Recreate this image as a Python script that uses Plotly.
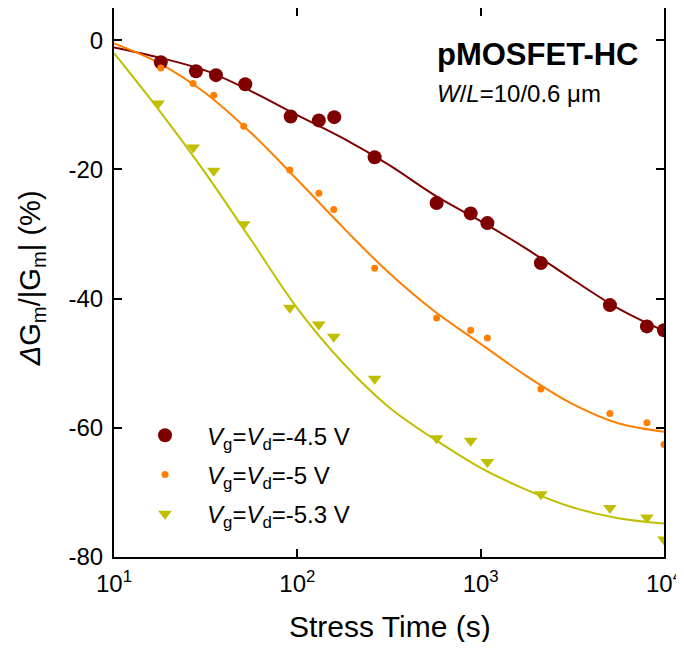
import plotly.graph_objects as go

# measured data (stress time in s, dGm/|Gm| in %)
t_meas = [18, 28, 36, 52, 92, 131, 159, 264, 575, 882, 1088, 2130, 5070, 8070, 10000]
vg45 = [-3.4, -4.8, -5.4, -6.8, -11.8, -12.4, -11.9, -18.1, -25.2, -26.8, -28.3, -34.5, -41.0, -44.3, -44.9]
t_meas5 = [18, 27, 35, 51, 91, 131, 158, 264, 575, 882, 1088, 2130, 5070, 8070, 10000]
vg5 = [-4.3, -6.7, -8.5, -13.3, -20.1, -23.7, -26.2, -35.3, -43.0, -44.9, -46.1, -54.0, -57.8, -59.2, -62.6]
t_meas53 = [17.4, 27, 35, 51, 91, 131, 158, 264, 575, 882, 1088, 2130, 5070, 8070, 10000]
vg53 = [-9.8, -16.6, -20.2, -28.5, -41.4, -44.0, -45.9, -52.4, -61.6, -62.0, -65.3, -70.3, -72.4, -73.9, -77.3]

# fitted curves
t_fit = [10, 17.8, 31.6, 56.2, 100, 178, 316, 562, 1000, 1780, 3160, 5620, 10000]
fit45 = [-1.1, -2.7, -4.7, -7.9, -11.6, -15.2, -19.3, -24.0, -28.0, -32.3, -37.0, -41.5, -45.0]
fit5 = [-0.5, -3.6, -8.2, -14.4, -21.6, -29.0, -36.0, -42.0, -47.0, -52.0, -56.3, -59.3, -60.6]
fit53 = [-2.0, -11.0, -20.6, -31.0, -41.5, -50.0, -56.8, -61.8, -66.2, -69.6, -72.3, -74.0, -74.8]

x_tickvals = [10, 100, 1000, 10000]
x_ticktext = ["10<sup>1</sup>", "10<sup>2</sup>", "10<sup>3</sup>", "10<sup>4</sup>"]
y_tickvals = [0, -20, -40, -60, -80]
y_ticktext = ["0", "-20", "-40", "-60", "-80"]

names = ["<i>V</i><sub>g</sub>=<i>V</i><sub>d</sub>=-4.5 V",
         "<i>V</i><sub>g</sub>=<i>V</i><sub>d</sub>=-5 V",
         "<i>V</i><sub>g</sub>=<i>V</i><sub>d</sub>=-5.3 V"]
colors = ["#800000", "#FF7F00", "#BFBF00"]

FONT = "Arial, Liberation Sans, sans-serif"
fig = go.Figure()

for tx, fy, c in [(t_fit, fit45, colors[0]), (t_fit, fit5, colors[1]), (t_fit, fit53, colors[2])]:
    fig.add_trace(go.Scatter(x=tx, y=fy, mode="lines", line=dict(color=c, width=2, shape="spline"),
                             showlegend=False, hoverinfo="skip"))

fig.add_trace(go.Scatter(x=t_meas, y=vg45, mode="markers", name=names[0], legendgroup="a",
                         marker=dict(symbol="circle", size=14, color=colors[0])))
fig.add_trace(go.Scatter(x=t_meas5, y=vg5, mode="markers", name=names[1], legendgroup="b",
                         marker=dict(symbol="circle", size=7, color=colors[1])))
fig.add_trace(go.Scatter(x=t_meas53, y=vg53, mode="markers", name=names[2], legendgroup="c",
                         marker=dict(symbol="triangle-down", size=12, color=colors[2])))

axis_common = dict(showline=True, linecolor="black", linewidth=2, mirror="ticks",
                   ticks="inside", ticklen=8, tickwidth=2, tickcolor="black",
                   showgrid=False, zeroline=False, automargin=False,
                   tickfont=dict(family=FONT, size=24, color="black"))

fig.update_xaxes(type="log", range=[1, 4], tickvals=x_tickvals, ticktext=x_ticktext,
                 ticklabelstandoff=4, **axis_common)
fig.update_yaxes(range=[-80, 5], tickvals=y_tickvals, ticktext=y_ticktext,
                 ticklabelstandoff=4, **axis_common)

# axis titles
fig.add_annotation(x=0.501, y=-0.127, xref="paper", yref="paper", text="Stress Time (s)",
                   xanchor="center", yanchor="middle",
                   showarrow=False, font=dict(family=FONT, size=30, color="black"))
fig.add_annotation(x=-0.149, y=0.508, xref="paper", yref="paper", textangle=-90,
                   xanchor="center", yanchor="middle",
                   text="<i>Δ</i>G<sub>m</sub>/|G<sub>m</sub>| (%)",
                   showarrow=False, font=dict(family=FONT, size=29, color="black"))

fig.add_annotation(x=0.5836, y=0.916, xref="paper", yref="paper", text="<b>pMOSFET-HC</b>",
                   xanchor="left", yanchor="middle",
                   showarrow=False, font=dict(family=FONT, size=31, color="black"))
fig.add_annotation(x=0.5836, y=0.845, xref="paper", yref="paper", text="<i>W</i>/<i>L</i>=10/0.6 μm",
                   xanchor="left", yanchor="middle",
                   showarrow=False, font=dict(family=FONT, size=24, color="black"))

# the page adds an 8 px body margin, so the figure is offset by (8, 8)
fig.update_layout(
    width=676, height=634,
    margin=dict(l=106, r=20, t=0, b=85),
    paper_bgcolor="white", plot_bgcolor="white",
    legend=dict(x=0.0164, y=0.262, xanchor="left", yanchor="top", bgcolor="rgba(0,0,0,0)",
                font=dict(family=FONT, size=24, color="black"), itemsizing="trace",
                itemwidth=74, tracegroupgap=5),
)

fig.write_html("out.html")
